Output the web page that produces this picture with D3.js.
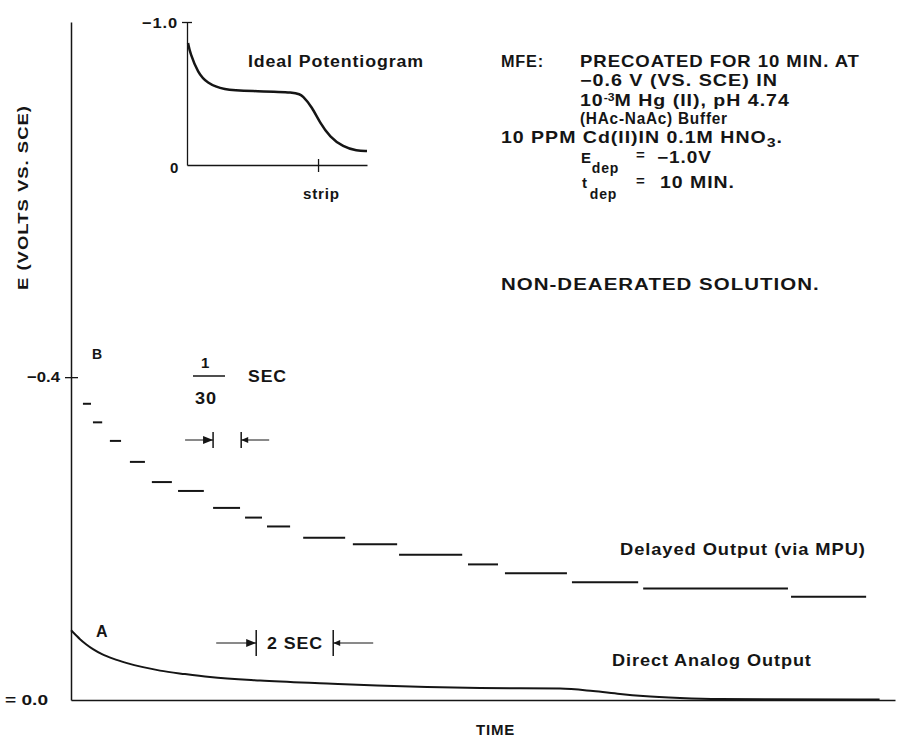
<!DOCTYPE html>
<html>
<head>
<meta charset="utf-8" />
<title>potentiogram</title>
<script src="https://d3js.org/d3.v7.min.js"></script>
<style>
  body { margin: 0; background: #fff; }
  svg { display: block; }
  text { font-family: "Liberation Sans", Arial, sans-serif; font-weight: bold; fill: #151515; }
  .ax path, .ax line { stroke: #151515; }
</style>
</head>
<body>
<svg width="904" height="741"></svg>
<script>
// delayed output (B): step start / end times (s) and potential (V vs SCE)
var stepStart = [0.31, 0.57, 1.01, 1.53, 2.10, 2.78, 3.69, 4.52, 5.09, 6.03, 7.32, 8.52, 10.31, 11.27, 13.01, 14.86, 18.70];
var stepEnd   = [0.52, 0.81, 1.30, 1.92, 2.62, 3.45, 4.39, 4.96, 5.69, 7.12, 8.47, 10.16, 11.09, 12.88, 14.73, 18.62, 20.65];
var stepVolt  = [-0.367, -0.344, -0.321, -0.295, -0.270, -0.259, -0.238, -0.226, -0.215, -0.201, -0.193, -0.180, -0.168, -0.157, -0.146, -0.138, -0.128];

// direct analog output (A)
var directTime = [0, 0.104, 0.234, 0.39, 0.571, 0.805, 1.091, 1.455, 1.87, 2.312, 2.961, 3.61, 4.909, 6.649, 7.948, 9.247, 10.623, 12.701, 13.558, 14.26, 14.857, 15.818, 16.857, 21.0];
var directVolt = [-0.0864, -0.0815, -0.0753, -0.0691, -0.0630, -0.0568, -0.0512, -0.0457, -0.0407, -0.0364, -0.0321, -0.0284, -0.0241, -0.0204, -0.0179, -0.0160, -0.0148, -0.0142, -0.0111, -0.0074, -0.0049, -0.0025, -0.0012, -0.0006];

// inset: ideal potentiogram
var idealT = [0.006, 0.017, 0.061, 0.111, 0.2, 0.35, 0.611, 0.644, 0.694, 0.739, 0.794, 0.867, 0.944, 1.0];
var idealV = [-0.853, -0.783, -0.643, -0.573, -0.524, -0.517, -0.510, -0.483, -0.406, -0.294, -0.196, -0.126, -0.098, -0.098];

var yTicks = [-0.4, 0];
var yTickLabels = ['\u22120.4', '= 0.0'];

var svg = d3.select('svg');

var x = d3.scaleLinear().domain([0, 21.4]).range([71, 895]);
var y = d3.scaleLinear().domain([0, -0.84]).range([700, 22]);

// stretch a text horizontally so it spans `len` px from its start
function fit(el, xx, len) {
    var w = el.node().getBBox().width;
    var k = len / w;
    el.attr('transform', 'translate(' + xx + ',0) scale(' + k + ',1) translate(' + (-xx) + ',0)');
    return el;
}

function label(t, xx, yy, size, len) {
    var el = svg.append('text').attr('x', xx).attr('y', yy)
        .style('font-size', (size || 16) + 'px')
        .style('letter-spacing', '0.8px')
        .text(t);
    if (len) fit(el, xx, len);
    return el;
}

// axes
var yAxis = svg.append('g').attr('class', 'ax')
    .attr('transform', 'translate(' + x(0) + ',0)')
    .call(d3.axisLeft(y).tickValues(yTicks).tickFormat('').tickSizeOuter(0).tickSize(0));
yAxis.select('.domain').attr('stroke-width', 1.5);
yAxis.selectAll('.tick line').attr('x1', -6).attr('x2', 7).attr('stroke-width', 1.3)
    .filter(function(d) { return d === 0; }).remove();

var xAxis = svg.append('g').attr('class', 'ax')
    .attr('transform', 'translate(0,' + y(0) + ')')
    .call(d3.axisBottom(x).tickValues([]).tickSizeOuter(0));
xAxis.select('.domain').attr('stroke-width', 1.5);

svg.selectAll('.ylab')
    .data(yTicks)
    .enter()
    .append('text')
    .attr('class', 'ylab')
    .attr('x', function(d, i) { return i === 0 ? 27 : 5; })
    .attr('y', function(d) { return y(d) + 5; })
    .attr('textLength', function(d, i) { return i === 0 ? 33 : 43; })
    .attr('lengthAdjust', 'spacingAndGlyphs')
    .style('font-size', '15px')
    .text(function(d, i) { return yTickLabels[i]; });

svg.append('text')
    .attr('transform', 'translate(28,290) rotate(-90)')
    .attr('textLength', 185).attr('lengthAdjust', 'spacingAndGlyphs')
    .style('font-size', '15px')
    .style('letter-spacing', '0.8px')
    .text('E (VOLTS VS. SCE)');

label('TIME', 476, 735, 15, 39);

// curve A
var line = d3.line()
    .x(function(d) { return x(d[0]); })
    .y(function(d) { return y(d[1]); })
    .curve(d3.curveMonotoneX);

svg.append('path')
    .datum(d3.zip(directTime, directVolt))
    .attr('d', line)
    .attr('fill', 'none')
    .attr('stroke', '#151515')
    .attr('stroke-width', 2);

// steps B
svg.selectAll('.step')
    .data(stepVolt)
    .enter()
    .append('line')
    .attr('class', 'step')
    .attr('x1', function(d, i) { return x(stepStart[i]); })
    .attr('x2', function(d, i) { return x(stepEnd[i]); })
    .attr('y1', function(d) { return y(d); })
    .attr('y2', function(d) { return y(d); })
    .attr('stroke', '#151515')
    .attr('stroke-width', 2);

label('A', 96, 637, 16);
label('B', 92, 359, 14);
label('Delayed Output (via MPU)', 620, 555, 16, 246);
label('Direct Analog Output', 612, 666, 16, 200);

// 1/30 SEC marker
label('1', 201, 368, 15);
svg.append('line').attr('x1', 193).attr('x2', 225).attr('y1', 376).attr('y2', 376)
    .attr('stroke', '#151515').attr('stroke-width', 1.5);
label('30', 195, 404, 16, 22);
label('SEC', 248, 382, 16, 39);

function bracket(t0, t1, yy, h, arm) {
    var a = x(t0), b = x(t1);
    var g = svg.append('g').attr('stroke', '#151515').attr('fill', '#151515');
    g.append('line').attr('x1', a).attr('x2', a).attr('y1', yy - h).attr('y2', yy + h).attr('stroke-width', 1.5);
    g.append('line').attr('x1', b).attr('x2', b).attr('y1', yy - h).attr('y2', yy + h).attr('stroke-width', 1.5);
    g.append('line').attr('x1', a - arm).attr('x2', a).attr('y1', yy).attr('y2', yy).attr('stroke-width', 1);
    g.append('line').attr('x1', b).attr('x2', b + arm).attr('y1', yy).attr('y2', yy).attr('stroke-width', 1);
    g.append('path').attr('d', 'M' + a + ',' + yy + 'l-10,-4l0,8z').attr('stroke', 'none');
    g.append('path').attr('d', 'M' + b + ',' + yy + 'l7,-3l0,6z').attr('stroke', 'none');
}
bracket(3.69, 4.42, 440, 8, 28);
bracket(4.81, 6.81, 643, 13, 40);
label('2 SEC', 267, 649, 16, 56);

// inset
var ix = d3.scaleLinear().domain([0, 1]).range([187, 367]);
var iy = d3.scaleLinear().domain([0, -1.0]).range([165, 22]);

var inset = svg.append('g');
inset.append('g').attr('class', 'ax')
    .attr('transform', 'translate(' + ix(0) + ',0)')
    .call(d3.axisLeft(iy).tickValues([-1.0]).tickFormat('').tickSize(0).tickSizeOuter(0))
    .call(function(g) {
        g.select('.domain').attr('stroke-width', 1.3);
        g.selectAll('.tick line').attr('x1', -5).attr('x2', 5).attr('stroke-width', 1.3);
    });
inset.append('g').attr('class', 'ax')
    .attr('transform', 'translate(0,' + iy(0) + ')')
    .call(d3.axisBottom(ix).tickValues([0.728]).tickFormat('').tickSize(0).tickSizeOuter(0))
    .call(function(g) {
        g.select('.domain').attr('stroke-width', 1.3);
        g.selectAll('.tick line').attr('y1', -6).attr('y2', 7).attr('stroke-width', 1.3);
    });

inset.append('path')
    .datum(d3.zip(idealT, idealV))
    .attr('d', d3.line().x(function(d) { return ix(d[0]); }).y(function(d) { return iy(d[1]); }).curve(d3.curveBasis))
    .attr('fill', 'none')
    .attr('stroke', '#151515')
    .attr('stroke-width', 2.5);

label('\u22121.0', 142, 28, 15, 36);
label('0', 170, 173, 15);
label('strip', 303, 199, 15, 37);
label('Ideal Potentiogram', 248, 67, 16, 176);

// conditions text
label('MFE:', 501, 67, 16, 43);
label('PRECOATED FOR 10 MIN. AT', 580, 67, 16, 280);
label('\u22120.6 V (VS. SCE) IN', 580, 86, 16, 198);
var l3 = label('10', 580, 106, 16);
l3.append('tspan').attr('dy', -5).style('font-size', '10px').style('letter-spacing', '0px').text('-3');
l3.append('tspan').attr('dy', 5).text('M Hg (II), pH 4.74');
fit(l3, 580, 210);
label('(HAc-NaAc) Buffer', 580, 124, 16, 148);
var l5 = label('10 PPM Cd(II)IN 0.1M HNO', 501, 143, 16);
l5.append('tspan').attr('dy', 4).style('font-size', '13px').text('3');
l5.append('tspan').attr('dy', -4).text('.');
fit(l5, 501, 282);
var l6 = label('E', 581, 163, 15);
l6.append('tspan').attr('dy', 10).style('font-size', '14px').text('dep');
label('=', 636, 160, 15);
label('\u22121.0V', 657, 163, 16, 55);
var l7 = label('t', 582, 188, 15);
l7.append('tspan').attr('dx', 2).attr('dy', 11).style('font-size', '14px').text('dep');
label('=', 636, 186, 15);
label('10 MIN.', 660, 188, 16, 75);
label('NON-DEAERATED SOLUTION.', 501, 290, 16, 319);
</script>
</body>
</html>
